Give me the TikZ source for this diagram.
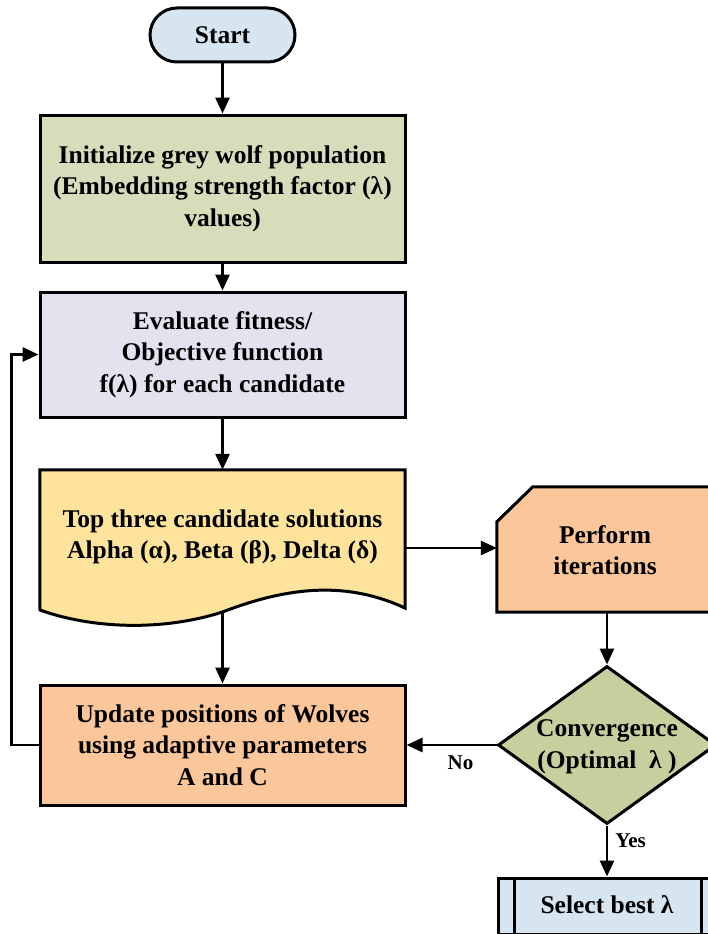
\documentclass[tikz,border=0pt]{standalone}
\usepackage{fontspec}
\setmainfont{Liberation Serif}
\usetikzlibrary{arrows.meta,shapes.geometric}

\definecolor{startblue}{RGB}{214,229,240}
\definecolor{initgreen}{RGB}{215,220,186}
\definecolor{evallilac}{RGB}{230,225,239}
\definecolor{docyellow}{RGB}{254,227,156}
\definecolor{updorange}{RGB}{251,198,153}
\definecolor{convolive}{RGB}{198,207,157}

\tikzset{
  box/.style={draw=black, line width=3pt, align=center, inner sep=0pt,
    font=\bfseries\fontsize{25.5}{31.5}\selectfont},
  txt/.style={align=center, inner sep=0pt, font=\bfseries\fontsize{25.5}{31.5}\selectfont},
  lbl/.style={inner sep=0pt, font=\bfseries\fontsize{21}{24}\selectfont},
  outline/.style={draw=black, line width=3pt, line join=miter},
  arr/.style={draw=black, line width=2.8pt, -{Triangle[length=16pt,width=14pt]}},
}

\begin{document}
\begin{tikzpicture}[x=1pt,y=-1pt]
\useasboundingbox (0,0) rectangle (707,934);

% terminal
\node[box, fill=startblue, rounded corners=27pt, minimum width=145pt,
      minimum height=54pt] (start) at (222.5,35) {Start};

% initialisation
\node[box, fill=initgreen, minimum width=365pt, minimum height=147pt]
  (init) at (222.5,188.5)
  {Initialize grey wolf population\\(Embedding strength factor (λ)\\values)};

% fitness evaluation
\node[box, fill=evallilac, minimum width=365pt, minimum height=125pt]
  (eval) at (222.5,354.5)
  {Evaluate fitness/\\Objective function\\f(λ) for each candidate};

% document shape with a wavy lower edge
\node[inner sep=0pt, minimum width=365pt, minimum height=140pt] (doc) at (222.5,540) {};
\path[outline, fill=docyellow]
  (doc.north west) -- (doc.north east) -- (405,608)
  .. controls (355,585) and (300,582) .. (222.5,612)
  .. controls (160,632) and (90,628) .. (40,610) -- cycle;
\node[txt] (doctext) at (222.5,537)
  {Top three candidate solutions\\Alpha (α), Beta (β), Delta (δ)};
\coordinate (docbot) at (222.5,612);
\coordinate (docright) at (405,548);

% position update
\node[box, fill=updorange, minimum width=365pt, minimum height=120pt]
  (upd) at (222.5,745)
  {Update positions of Wolves\\using adaptive parameters\\A and C};

% iterations card with a cut corner
\node[inner sep=0pt, minimum width=215pt, minimum height=125pt] (perf) at (604.5,549.5) {};
\path[outline, fill=updorange]
  ([yshift=-35pt]perf.north west) -- ([xshift=36pt]perf.north west)
  -- (perf.north east) -- (perf.south east) -- (perf.south west) -- cycle;
\node[txt] at (605,550) {Perform\\iterations};

% convergence test
\node[diamond, outline, fill=convolive, minimum width=218pt, minimum height=158pt,
      inner sep=0pt] (conv) at (607,745) {};
\node[txt] at (607,747) {Convergence\\(Optimal~ λ )};

% final selection (predefined process)
\node[box, fill=startblue, minimum width=222pt, minimum height=56pt]
  (sel) at (609,906) {};
\draw[line width=3pt] ([xshift=18pt]sel.north west) -- ([xshift=18pt]sel.south west);
\draw[line width=3pt] ([xshift=-20pt]sel.north east) -- ([xshift=-20pt]sel.south east);
\node[txt] at (607,905) {Select best λ};

% connectors
\draw[arr] (start) -- (init);
\draw[arr] (init) -- (eval);
\draw[arr] (eval) -- (doc.north);
\draw[arr] (docbot) -- (upd);
\draw[arr] (docright) -- (perf.west |- docright);
\draw[arr] (perf.south -| conv.north) -- (conv.north);
\draw[arr] (conv.west) -- (upd.east) node[lbl, pos=0.4, below=9pt] {No};
\draw[arr] (conv.south) -- (conv.south |- sel.north) node[lbl, pos=0.3, right=7pt] {Yes};
\draw[arr] (upd.west) -- ++(-27,0) |- (eval.west);
\end{tikzpicture}
\end{document}
